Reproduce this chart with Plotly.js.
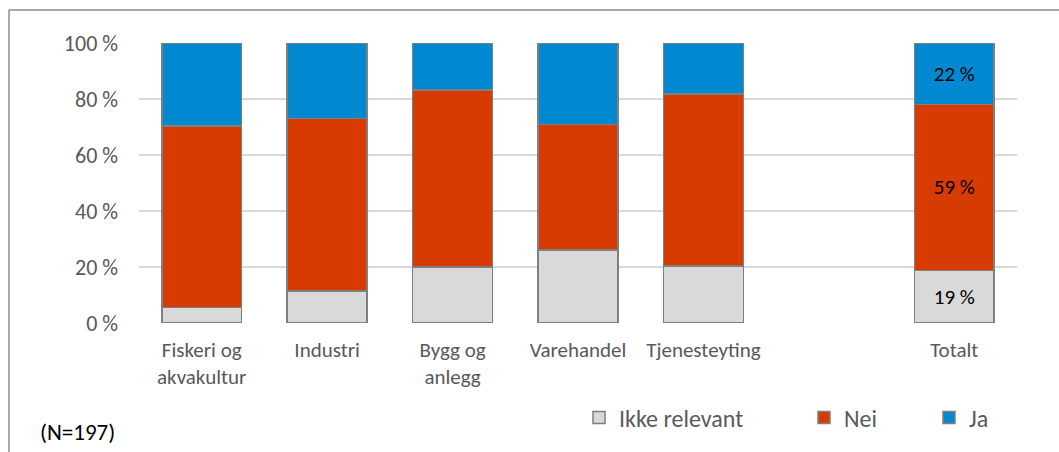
<!DOCTYPE html>
<html>
<head>
<meta charset="utf-8">
<script src="https://cdn.plot.ly/plotly-3.0.1.min.js"></script>
<style>
  html, body { margin: 0; padding: 0; background: #fff; }
  #chart { width: 1059px; height: 452px; }
</style>
</head>
<body>
<div id="chart"></div>
<script>
// ---- data ----
const categories = ["Fiskeri og<br>akvakultur", "Industri", "Bygg og<br>anlegg", "Varehandel", "Tjenesteyting", " ", "Totalt"];
const ikkeRelevant = [5.6, 11.4, 20.0, 26.0, 20.4, null, 18.8];
const nei          = [64.8, 61.6, 63.3, 44.9, 61.4, null, 59.3];
const ja           = [29.6, 27.0, 16.7, 29.1, 18.2, null, 21.9];
const seriesNames  = ["Ikke relevant", "Nei", "Ja"];
const labelledCategory = "Totalt";
const yTickVals = [0, 20, 40, 60, 80, 100];
const yTickText = ["0 %", "20 %", "40 %", "60 %", "80 %", "100 %"];
const noteText = "(N=197)";

// ---- styling ----
const FONT = "Carlito, Lato, 'Liberation Sans', sans-serif";
const colors = ["#D9D9D9", "#D83B01", "#0089D1"];
const outline = "#7F7F7F";

// plot area in pixels: x 139..1017, y 43..323
const L = 139, R = 42, T = 43, B = 129;
const W = 1059 - L - R, H = 452 - T - B;
const px = x => (x - L) / W;
const py = y => (452 - B - y) / H;

function labels(vals) {
  return vals.map((v, i) => (categories[i] === labelledCategory && v != null) ? Math.round(v) + " %" : "");
}

const allSeries = [ikkeRelevant, nei, ja];
const legendIds = ["legend", "legend2", "legend3"];
const traces = allSeries.map((vals, k) => ({
  type: "bar",
  name: seriesNames[k],
  x: categories,
  y: vals,
  marker: { color: colors[k], line: { color: outline, width: 1.5 } },
  text: labels(vals),
  textposition: "inside",
  insidetextanchor: "middle",
  textangle: 0,
  constraintext: "none",
  textfont: { family: FONT, size: 21, color: "#000000" },
  legend: legendIds[k],
  hoverinfo: "skip"
}));

const legendBase = {
  orientation: "h",
  yanchor: "middle",
  xanchor: "left",
  y: py(418),
  font: { family: FONT, size: 24, color: "#595959" },
  bgcolor: "rgba(0,0,0,0)",
  borderwidth: 0,
  itemwidth: 30
};

const layout = {
  width: 1059,
  height: 452,
  margin: { l: L, r: R, t: T, b: B, pad: 0 },
  paper_bgcolor: "#ffffff",
  plot_bgcolor: "#ffffff",
  barmode: "stack",
  bargap: 0.363,
  showlegend: true,
  legend:  Object.assign({}, legendBase, { x: px(579) }),
  legend2: Object.assign({}, legendBase, { x: px(804) }),
  legend3: Object.assign({}, legendBase, { x: px(929) }),
  font: { family: FONT, color: "#595959" },
  xaxis: {
    type: "category",
    categoryorder: "array",
    categoryarray: categories,
    showgrid: false,
    zeroline: false,
    showline: false,
    ticks: "",
    ticklabelstandoff: 12,
    tickfont: { family: FONT, size: 21, color: "#595959" },
    fixedrange: true
  },
  yaxis: {
    range: [0, 100],
    tickvals: yTickVals,
    ticktext: yTickText,
    showgrid: true,
    gridcolor: "#D9D9D9",
    gridwidth: 1.5,
    zeroline: false,
    showline: false,
    ticks: "",
    ticklabelstandoff: 20,
    tickfont: { family: FONT, size: 22, color: "#595959" },
    fixedrange: true
  },
  shapes: [
    { type: "line", xref: "paper", yref: "paper", x0: px(9), x1: px(1062), y0: py(10), y1: py(10),
      line: { color: "#8C8C8C", width: 1.5 } },
    { type: "line", xref: "paper", yref: "paper", x0: px(9), x1: px(9), y0: py(10), y1: py(455),
      line: { color: "#8C8C8C", width: 1.5 } }
  ],
  annotations: [
    { text: noteText, xref: "paper", yref: "paper", x: px(77.5), y: py(432),
      xanchor: "center", yanchor: "middle", showarrow: false,
      font: { family: FONT, size: 23, color: "#000000" } }
  ]
};

Plotly.newPlot("chart", traces, layout, { displayModeBar: false, staticPlot: true });
</script>
</body>
</html>
